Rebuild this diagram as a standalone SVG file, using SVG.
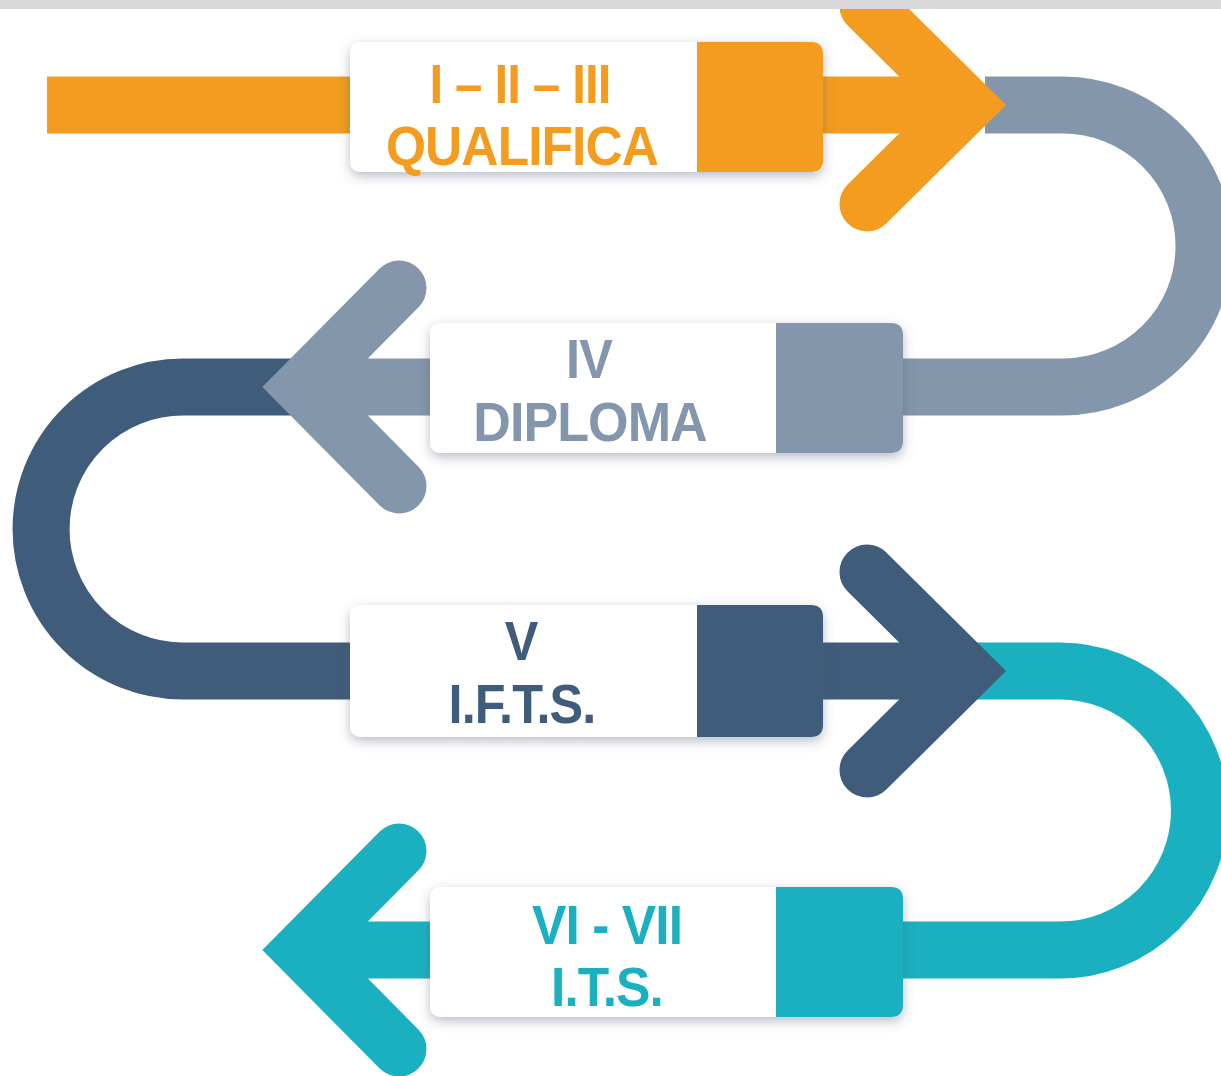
<svg xmlns="http://www.w3.org/2000/svg" width="1221" height="1076" viewBox="0 0 1221 1076">
<defs>
<filter id="sh" x="-10%" y="-25%" width="120%" height="155%">
<feGaussianBlur in="SourceAlpha" stdDeviation="6"/>
<feOffset dy="4" result="b"/>
<feFlood flood-color="#4a5a70" flood-opacity="0.4"/>
<feComposite in2="b" operator="in"/>
<feMerge><feMergeNode/><feMergeNode in="SourceGraphic"/></feMerge>
</filter>
</defs>
<style>
.band{fill:none;stroke-width:57;stroke-linecap:butt}
.chev{fill:none;stroke-width:55;stroke-linejoin:miter;stroke-linecap:round}
.box{fill:#ffffff}
.t{font-family:"Liberation Sans",Arial,sans-serif;font-weight:bold;font-size:56px;text-anchor:middle;letter-spacing:-1px}
.or{stroke:#f39c1f}
.gr{stroke:#8496ab}
.dk{stroke:#3f5c7a}
.tl{stroke:#1bb0bf}
</style>
<rect x="0" y="0" width="1221" height="1076" fill="#ffffff"/>
<g id="connectors">
<path class="band tl" d="M 975 671 H 1060 A 139.5 139.5 0 0 1 1060 950 H 300"/>
<path class="band dk" d="M 305 387 H 183 A 142 142 0 0 0 183 671 H 967"/>
<path class="band gr" d="M 985 105 H 1063 A 141 141 0 0 1 1063 387 H 300"/>
<path class="band or" d="M 47 105 H 967"/>
<polyline class="chev or" points="867,6 967,105 867,204"/>
<polyline class="chev gr" points="399,288 301,387 399,486"/>
<polyline class="chev dk" points="867,572 967,671 867,770"/>
<polyline class="chev tl" points="399,851 301,950 399,1049"/>
</g>
<g id="node-qualifica">
<rect class="box" x="350" y="42" width="473" height="130" rx="10" filter="url(#sh)"/>
<path d="M 697 42 H 811 Q 823 42 823 54 V 160 Q 823 172 811 172 H 697 Z" fill="#f39c1f"/>
<text class="t" fill="#f39c1f" transform="translate(520 103) scale(0.88 1)">I – II – III</text>
<text class="t" fill="#f39c1f" transform="translate(522 165) scale(0.92 1)">QUALIFICA</text>
</g>
<g id="node-diploma">
<rect class="box" x="430" y="323" width="473" height="130" rx="10" filter="url(#sh)"/>
<path d="M 776 323 H 891 Q 903 323 903 335 V 441 Q 903 453 891 453 H 776 Z" fill="#8496ab"/>
<text class="t" fill="#8496ab" transform="translate(589 378) scale(0.9 1)">IV</text>
<text class="t" fill="#8496ab" transform="translate(590 441) scale(0.93 1)">DIPLOMA</text>
</g>
<g id="node-ifts">
<rect class="box" x="350" y="605" width="473" height="132" rx="10" filter="url(#sh)"/>
<path d="M 697 605 H 811 Q 823 605 823 617 V 725 Q 823 737 811 737 H 697 Z" fill="#3f5c7a"/>
<text class="t" fill="#3f5c7a" transform="translate(521 660) scale(0.9 1)">V</text>
<text class="t" fill="#3f5c7a" transform="translate(522 723) scale(0.9 1)">I.F.T.S.</text>
</g>
<g id="node-its">
<rect class="box" x="430" y="887" width="473" height="130" rx="10" filter="url(#sh)"/>
<path d="M 776 887 H 891 Q 903 887 903 899 V 1005 Q 903 1017 891 1017 H 776 Z" fill="#1bb0bf"/>
<text class="t" fill="#1bb0bf" transform="translate(607 944) scale(0.92 1)">VI - VII</text>
<text class="t" fill="#1bb0bf" transform="translate(607 1006) scale(0.92 1)">I.T.S.</text>
</g>
<rect x="0" y="0" width="1221" height="9" fill="#d9d9d9"/>
</svg>
